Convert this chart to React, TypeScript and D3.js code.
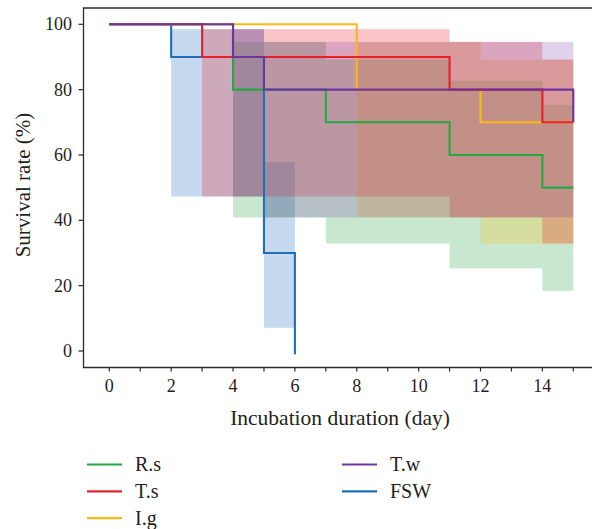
import React from 'react';
import * as d3 from 'd3';

// ---------- data ----------
const seriesNames = ['R.s', 'T.s', 'I.g', 'T.w', 'FSW'];
const seriesColors = ['#25a744', '#e8202a', '#fbb914', '#7033a0', '#1f6fbd'];

// R.s
const rsTimes = [0, 4, 7, 11, 14];
const rsSurvival = [100, 80, 70, 60, 50];
const rsLower = [null, 40.9, 32.9, 25.3, 18.4];
const rsUpper = [null, 94.6, 89.2, 82.7, 75.3];
const rsEnd = 15;

// T.s
const tsTimes = [0, 3, 11, 14];
const tsSurvival = [100, 90, 80, 70];
const tsLower = [null, 47.3, 40.9, 32.9];
const tsUpper = [null, 98.5, 94.6, 89.2];
const tsEnd = 15;

// I.g
const igTimes = [0, 8, 12];
const igSurvival = [100, 80, 70];
const igLower = [null, 40.9, 32.9];
const igUpper = [null, 94.6, 89.2];
const igEnd = 15;

// T.w
const twTimes = [0, 4, 5, 15];
const twSurvival = [100, 90, 80, 70];
const twLower = [null, 47.3, 40.9, null];
const twUpper = [null, 98.5, 94.6, null];
const twEnd = 15;

// FSW
const fswTimes = [0, 2, 5, 6];
const fswSurvival = [100, 90, 30, -1];
const fswLower = [null, 47.3, 7.1, null];
const fswUpper = [null, 98.5, 57.8, null];
const fswEnd = 6;

const xTicks = d3.range(0, 16, 1);
const xTickLabels = [0, 2, 4, 6, 8, 10, 12, 14];
const yTicks = [0, 20, 40, 60, 80, 100];

const xTitle = 'Incubation duration (day)';
const yTitle = 'Survival rate (%)';

// ---------- build ----------
type Series = {
  name: string; color: string; times: number[]; surv: number[];
  lower: (number | null)[]; upper: (number | null)[]; end: number;
};
const all: Series[] = [
  { name: seriesNames[0], color: seriesColors[0], times: rsTimes, surv: rsSurvival, lower: rsLower, upper: rsUpper, end: rsEnd },
  { name: seriesNames[1], color: seriesColors[1], times: tsTimes, surv: tsSurvival, lower: tsLower, upper: tsUpper, end: tsEnd },
  { name: seriesNames[2], color: seriesColors[2], times: igTimes, surv: igSurvival, lower: igLower, upper: igUpper, end: igEnd },
  { name: seriesNames[3], color: seriesColors[3], times: twTimes, surv: twSurvival, lower: twLower, upper: twUpper, end: twEnd },
  { name: seriesNames[4], color: seriesColors[4], times: fswTimes, surv: fswSurvival, lower: fswLower, upper: fswUpper, end: fswEnd },
];
// drawing order (bottom to top)
const drawOrder = ['FSW', 'R.s', 'I.g', 'T.s', 'T.w'];

const W = 592, H = 529;
const frame = { left: 83.5, top: 8, bottom: 367.5, right: 592 };
const x = d3.scaleLinear().domain([0, 15]).range([109.3, 573.3]);
const y = d3.scaleLinear().domain([0, 100]).range([351, 24.3]);

const font = "'Liberation Serif', 'Times New Roman', Times, serif";
const textColor = '#231f20';
const tStyle = { fontFamily: font };

const line = d3.line<[number, number]>()
  .x(d => x(d[0]))
  .y(d => y(d[1]))
  .curve(d3.curveStepAfter);

export default function App() {
  const ordered = drawOrder.map(n => all.find(s => s.name === n)!);
  return (
    <svg width={W} height={H} style={{ position: 'absolute', left: 0, top: 0, background: '#fff', fontFamily: font }}>
      <rect x={0} y={0} width={W} height={H} fill="#fff" />
      {/* confidence bands */}
      <g>
        {ordered.map(s => (
          <g key={s.name}>
            {s.times.map((t, i) => {
              const lo = s.lower[i], hi = s.upper[i];
              if (lo == null || hi == null) return null;
              const t2 = i + 1 < s.times.length ? s.times[i + 1] : s.end;
              return (
                <rect key={i} x={x(t)} width={x(t2) - x(t)} y={y(hi)} height={y(lo) - y(hi)}
                  fill={s.color} fillOpacity={s.name === 'T.w' ? 0.22 : 0.26} />
              );
            })}
          </g>
        ))}
      </g>
      {/* survival lines */}
      <g fill="none" strokeWidth={2.1}>
        {ordered.map(s => {
          const pts: [number, number][] = s.times.map((t, i) => [t, s.surv[i]] as [number, number]);
          pts.push([s.end, s.surv[s.surv.length - 1]]);
          return <path key={s.name} d={line(pts) || ''} stroke={s.color} />;
        })}
      </g>
      {/* frame */}
      <path d={`M${frame.right},${frame.top}H${frame.left}V${frame.bottom}H${frame.right}`}
        fill="none" stroke="#2b2b2b" strokeWidth={1.3} />
      {/* ticks */}
      <g stroke="#2b2b2b" strokeWidth={1.2}>
        {xTicks.map(t => (
          <line key={t} x1={x(t)} x2={x(t)} y1={frame.bottom} y2={frame.bottom + 4} />
        ))}
        {yTicks.map(t => (
          <line key={t} x1={frame.left - 5} x2={frame.left} y1={y(t)} y2={y(t)} />
        ))}
      </g>
      <g fill={textColor}>
        {xTickLabels.map(t => (
          <text key={t} x={x(t)} y={391.5} textAnchor="middle" fontSize={18} style={tStyle}>{t}</text>
        ))}
        {yTicks.map(t => (
          <text key={t} x={72} y={y(t)} dy="0.34em" textAnchor="end" fontSize={18} style={tStyle}>{t}</text>
        ))}
      </g>
      <text x={340} y={425} textAnchor="middle" fontSize={21.5} fill={textColor} style={tStyle}>{xTitle}</text>
      <text transform={`translate(30,185) rotate(-90)`} textAnchor="middle" fontSize={21} fill={textColor} style={tStyle}>{yTitle}</text>
      {/* legend */}
      <g fill={textColor}>
        {all.map((s, i) => {
          const col = i < 3 ? 0 : 1;
          const row = i < 3 ? i : i - 3;
          const lx = col === 0 ? 87 : 342;
          const ly = 464.5 + row * 26.8;
          return (
            <g key={s.name}>
              <line x1={lx} x2={lx + 35} y1={ly} y2={ly} stroke={s.color} strokeWidth={2.2} />
              <text x={lx + 48} y={ly + 6.5} fontSize={20} style={tStyle}>{s.name}</text>
            </g>
          );
        })}
      </g>
    </svg>
  );
}
